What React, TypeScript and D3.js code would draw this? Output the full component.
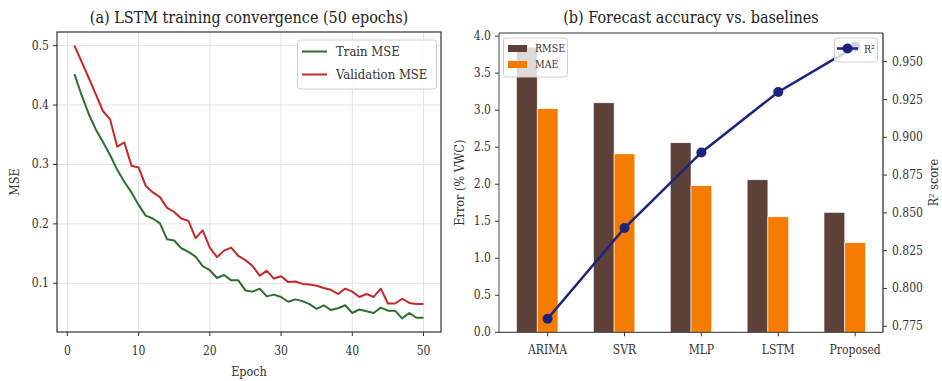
import React from "react";
import * as d3 from "d3";

const epochs: number[] = Array.from({ length: 50 }, (_, i) => i + 1);
const trainMSE: number[] = [
  0.452, 0.417, 0.385, 0.359, 0.338, 0.316, 0.291, 0.271, 0.253, 0.232,
  0.214, 0.209, 0.201, 0.174, 0.172, 0.159, 0.153, 0.145, 0.129, 0.122,
  0.109, 0.114, 0.105, 0.105, 0.088, 0.086, 0.091, 0.078, 0.081, 0.077,
  0.069, 0.073, 0.070, 0.065, 0.057, 0.063, 0.055, 0.058, 0.063, 0.050,
  0.056, 0.053, 0.050, 0.059, 0.054, 0.054, 0.041, 0.050, 0.042, 0.042,
];
const valMSE: number[] = [
  0.500, 0.473, 0.446, 0.418, 0.390, 0.376, 0.330, 0.337, 0.298, 0.295,
  0.264, 0.253, 0.245, 0.227, 0.220, 0.209, 0.205, 0.176, 0.189, 0.160,
  0.144, 0.155, 0.160, 0.146, 0.139, 0.129, 0.113, 0.121, 0.108, 0.112,
  0.102, 0.103, 0.099, 0.098, 0.096, 0.092, 0.089, 0.082, 0.091, 0.086,
  0.077, 0.082, 0.077, 0.091, 0.066, 0.066, 0.074, 0.067, 0.065, 0.065,
];
const epochTicks: number[] = [0, 10, 20, 30, 40, 50];
const mseTicks: number[] = [0.1, 0.2, 0.3, 0.4, 0.5];

const models: string[] = ["ARIMA", "SVR", "MLP", "LSTM", "Proposed"];
const rmse: number[] = [3.85, 3.1, 2.56, 2.06, 1.62];
const mae: number[] = [3.02, 2.41, 1.98, 1.56, 1.21];
const r2: number[] = [0.78, 0.84, 0.89, 0.93, 0.96];
const errTicks: number[] = [0, 0.5, 1, 1.5, 2, 2.5, 3, 3.5, 4];
const r2Ticks: number[] = [0.775, 0.8, 0.825, 0.85, 0.875, 0.9, 0.925, 0.95];

const FONT = "'DejaVu Serif', serif";
const GREEN = "#2e6e30";
const RED = "#c62828";
const BROWN = "#5d4037";
const ORANGE = "#f57c00";
const NAVY = "#1a237e";

function pad(lo: number, hi: number, m = 0.05): [number, number] {
  const r = hi - lo;
  return [lo - r * m, hi + r * m];
}

export default function App() {
  // Left panel
  const L = { x0: 57, x1: 441, y0: 32, y1: 332 };
  const xL = d3.scaleLinear().domain(pad(1, 50)).range([L.x0, L.x1]);
  const allMSE = trainMSE.concat(valMSE);
  const yL = d3
    .scaleLinear()
    .domain(pad(d3.min(allMSE)!, d3.max(allMSE)!))
    .range([L.y1, L.y0]);
  const line = (vals: number[]) =>
    d3
      .line<number>()
      .x((_, i) => xL(epochs[i]))
      .y((v) => yL(v))(vals)!;

  // Right panel
  const R = { x0: 499, x1: 883, y0: 33, y1: 332.3 };
  const bw = 0.27;
  const xR = d3
    .scaleLinear()
    .domain(pad(-1.5 * bw, models.length - 1 + 0.5 * bw))
    .range([R.x0, R.x1]);
  const yR = d3
    .scaleLinear()
    .domain([0, d3.max(rmse)! * 1.05])
    .range([R.y1, R.y0]);
  const y2 = d3
    .scaleLinear()
    .domain(pad(d3.min(r2)!, d3.max(r2)!))
    .range([R.y1, R.y0]);
  const r2Line = d3
    .line<number>()
    .x((_, i) => xR(i))
    .y((v) => y2(v))(r2)!;

  const tickCol = "#333";

  return (
    <svg
      width={942}
      height={381}
      style={{ position: "absolute", left: 0, top: 0, background: "#fff" }}
      fontFamily={FONT}
      fontStretch="condensed"
    >
      <rect x={0} y={0} width={942} height={381} fill="#fff" />
      {/* ---------- Left panel ---------- */}
      <text x={(L.x0 + L.x1) / 2} y={23} fontSize={16} textAnchor="middle" fill="#222">
        (a) LSTM training convergence (50 epochs)
      </text>
      {epochTicks.map((t) => (
        <line key={"gx" + t} x1={xL(t)} x2={xL(t)} y1={L.y0} y2={L.y1} stroke="#e3e3e3" strokeWidth={1} />
      ))}
      {mseTicks.map((t) => (
        <line key={"gy" + t} x1={L.x0} x2={L.x1} y1={yL(t)} y2={yL(t)} stroke="#e3e3e3" strokeWidth={1} />
      ))}
      <path d={line(trainMSE)} fill="none" stroke={GREEN} strokeWidth={2} strokeLinejoin="round" />
      <path d={line(valMSE)} fill="none" stroke={RED} strokeWidth={2} strokeLinejoin="round" />
      <rect x={L.x0} y={L.y0} width={L.x1 - L.x0} height={L.y1 - L.y0} fill="none" stroke="#333" strokeWidth={1.2} />
      {epochTicks.map((t) => (
        <g key={"tx" + t}>
          <line x1={xL(t)} x2={xL(t)} y1={L.y1} y2={L.y1 + 4} stroke={tickCol} />
          <text x={xL(t)} y={L.y1 + 23} fontSize={12} textAnchor="middle" fill="#333">
            {t}
          </text>
        </g>
      ))}
      {mseTicks.map((t) => (
        <g key={"ty" + t}>
          <line x1={L.x0 - 4} x2={L.x0} y1={yL(t)} y2={yL(t)} stroke={tickCol} />
          <text x={L.x0 - 8} y={yL(t) + 4} fontSize={12} textAnchor="end" fill="#333">
            {d3.format(".1f")(t)}
          </text>
        </g>
      ))}
      <text x={(L.x0 + L.x1) / 2} y={376} fontSize={12.5} textAnchor="middle" fill="#333">
        Epoch
      </text>
      <text transform={`translate(19,${(L.y0 + L.y1) / 2}) rotate(-90)`} fontSize={12.5} textAnchor="middle" fill="#333">
        MSE
      </text>
      {/* legend */}
      <rect x={297.5} y={40} width={139} height={49} rx={3} fill="#fff" fillOpacity={0.85} stroke="#d0d0d0" />
      <line x1={302} x2={327} y1={51.5} y2={51.5} stroke={GREEN} strokeWidth={2} />
      <text x={336} y={56} fontSize={13} fill="#333">Train MSE</text>
      <line x1={302} x2={327} y1={74.5} y2={74.5} stroke={RED} strokeWidth={2} />
      <text x={336} y={79} fontSize={13} fill="#333">Validation MSE</text>

      {/* ---------- Right panel ---------- */}
      <text x={(R.x0 + R.x1) / 2} y={23} fontSize={16} textAnchor="middle" fill="#222">
        (b) Forecast accuracy vs. baselines
      </text>
      {models.map((m, i) => (
        <g key={"b" + m}>
          <rect
            x={xR(i - 1.5 * bw)}
            y={yR(rmse[i])}
            width={xR(bw) - xR(0)}
            height={yR(0) - yR(rmse[i])}
            fill={BROWN}
            stroke="#fff"
            strokeWidth={0.6}
          />
          <rect
            x={xR(i - 0.5 * bw)}
            y={yR(mae[i])}
            width={xR(bw) - xR(0)}
            height={yR(0) - yR(mae[i])}
            fill={ORANGE}
            stroke="#fff"
            strokeWidth={0.6}
          />
        </g>
      ))}
      <path d={r2Line} fill="none" stroke={NAVY} strokeWidth={2.5} />
      {r2.map((v, i) => (
        <circle key={"m" + i} cx={xR(i)} cy={y2(v)} r={5} fill={NAVY} />
      ))}
      <line x1={R.x0} x2={R.x0} y1={R.y0} y2={R.y1} stroke="#666" strokeWidth={1.2} />
      <line x1={R.x0} x2={R.x1} y1={R.y1} y2={R.y1} stroke="#555" strokeWidth={1.2} />
      <line x1={R.x0} x2={R.x1} y1={R.y0} y2={R.y0} stroke="#333" strokeWidth={1.2} />
      <line x1={R.x1} x2={R.x1} y1={R.y0} y2={R.y1} stroke="#222" strokeWidth={1.2} />
      {models.map((m, i) => (
        <g key={"tx" + m}>
          <line x1={xR(i)} x2={xR(i)} y1={R.y1} y2={R.y1 + 4} stroke={tickCol} />
          <text x={xR(i)} y={R.y1 + 22} fontSize={12} textAnchor="middle" fill="#333">
            {m}
          </text>
        </g>
      ))}
      {errTicks.map((t) => (
        <g key={"ey" + t}>
          <line x1={R.x0 - 4} x2={R.x0} y1={yR(t)} y2={yR(t)} stroke={tickCol} />
          <text x={R.x0 - 8} y={yR(t) + 4} fontSize={12} textAnchor="end" fill="#333">
            {d3.format(".1f")(t)}
          </text>
        </g>
      ))}
      {r2Ticks.map((t) => (
        <g key={"ry" + t}>
          <line x1={R.x1} x2={R.x1 + 4} y1={y2(t)} y2={y2(t)} stroke={tickCol} />
          <text x={R.x1 + 9} y={y2(t) + 4} fontSize={12} textAnchor="start" fill="#333">
            {d3.format(".3f")(t)}
          </text>
        </g>
      ))}
      <text transform={`translate(464,${(R.y0 + R.y1) / 2}) rotate(-90)`} fontSize={12.5} textAnchor="middle" fill="#333">
        Error (% VWC)
      </text>
      <text transform={`translate(938,${(R.y0 + R.y1) / 2}) rotate(-90)`} fontSize={12.5} textAnchor="middle" fill="#333">
        R² score
      </text>
      {/* bar legend */}
      <rect x={503.5} y={38} width={64} height={39} rx={3} fill="#fff" fillOpacity={0.8} stroke="#d0d0d0" />
      <rect x={508} y={45} width={19} height={7} fill={BROWN} />
      <text x={535} y={52} fontSize={10.5} fill="#333">RMSE</text>
      <rect x={508} y={61} width={19} height={7} fill={ORANGE} />
      <text x={535} y={68} fontSize={10.5} fill="#333">MAE</text>
      {/* R2 legend */}
      <rect x={834.5} y={38} width={43} height={24} rx={3} fill="#fff" fillOpacity={0.8} stroke="#d0d0d0" />
      <line x1={837} x2={858} y1={48.5} y2={48.5} stroke={NAVY} strokeWidth={2.5} />
      <circle cx={847.5} cy={48.5} r={5} fill={NAVY} />
      <text x={864} y={53} fontSize={10.5} fill="#333">R²</text>
    </svg>
  );
}
